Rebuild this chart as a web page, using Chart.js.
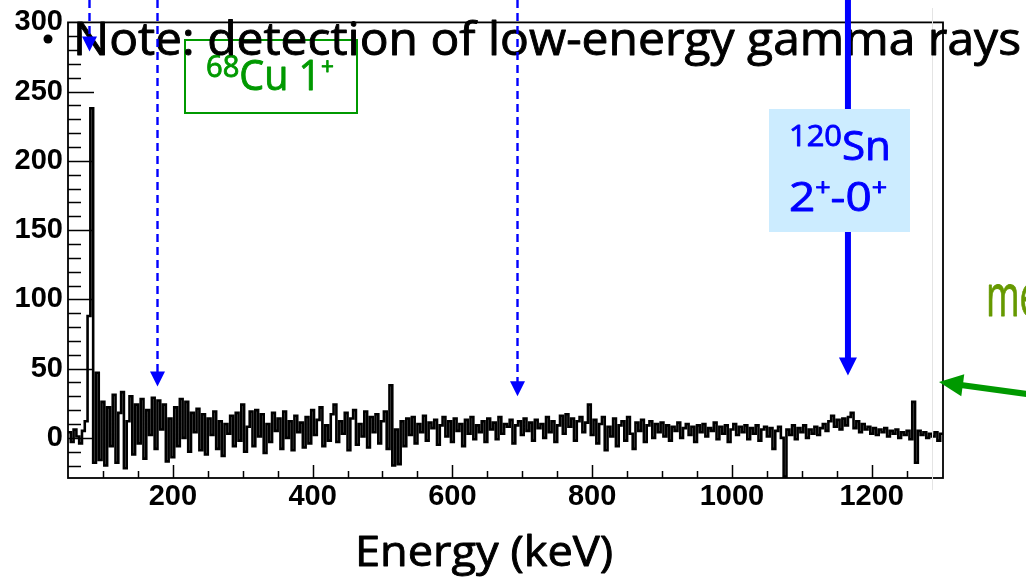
<!DOCTYPE html>
<html>
<head>
<meta charset="utf-8">
<script src="https://cdn.jsdelivr.net/npm/chart.js@4.4.0/dist/chart.umd.min.js"></script>
<style>
  html, body { margin: 0; padding: 0; background: #fff; overflow: hidden; }
  #wrap { width: 1026px; height: 579px; position: relative; }
</style>
</head>
<body>
<div id="wrap"><canvas id="c" width="1026" height="579"></canvas></div>
<script>
// Gamma-ray spectrum: counts per 4 keV bin, first bin starting at 50 keV
const BIN_START = 50;
const BIN_WIDTH = 4;
const counts = [
  4, -3, 6, 1, -4, 5, 12, 88, 238, -18,        // 50-86
  47, -16, 26, -20, 22, -6, 31, -18, 18, 33,   // 90-126
  -22, 12, 30, -12, 24, -4, 28, -15, 20, 2,    // 130-166
  29, -8, 27, 6, 24, -17, 14, -14, 22, -6,     // 170-206
  28, 0, 26, -10, 18, 4, 21, -9, 17, -12,      // 210-246
  14, 2, 19, -8, 12, -13, 10, 3, 16, -6,       // 250-286
  18, -2, 24, -10, 8, 19, -6, 20, 1, 17,       // 290-326
  -11, 10, -3, 18, 5, 14, -8, 19, 0, 12,       // 330-366
  -9, 16, 4, 11, -7, 15, -4, 20, 2, 13,        // 370-406
  22, -6, 9, -2, 17, 24, -3, 12, 3, 18,        // 410-446
  -9, 14, 20, -5, 10, 1, 19, -7, 15, 4,        // 450-486
  17, -4, 12, 19, -8, 38, -20, 6, -19, 12,     // 490-526
  -6, 14, 2, 15, -4, 10, 4, 16, -2, 11,        // 530-566
  7, 13, -5, 9, 15, 1, 12, -3, 14, 5,          // 570-606
  10, -6, 13, 3, 15, -1, 9, 4, 12, -3,         // 610-646
  14, 6, 11, -1, 15, 3, 10, 8, 13, -4,         // 650-686
  9, 12, 2, 14, 5, 11, -2, 13, 7, 10,          // 690-726
  0, 15, 4, 12, -3, 9, 16, 3, 17, 8,           // 730-766
  14, -2, 12, 15, 4, 11, 24, 2, 13, -4,        // 770-806
  10, 15, -9, 8, 1, 14, -6, 9, 12, -2,         // 810-846
  15, 3, -8, 11, 5, 13, -3, 9, 12, 0,          // 850-886
  10, 4, 11, 1, 9, -2, 8, 5, 11, 0,            // 890-926
  7, 10, 2, 8, -3, 9, 4, 10, 1, 7,             // 930-966
  5, 11, -1, 8, 3, 9, -3, 6, 10, 2,            // 970-1006
  8, 4, 9, -1, 7, 3, 9, -2, 6, 8,              // 1010-1046
  1, 7, -8, 5, 8, 0, -28, 6, 2, 9,             // 1050-1086
  -1, 7, 4, 9, 0, 6, 3, 8, 2, 7,               // 1090-1126
  10, 5, 12, 16, 8, 13, 6, 14, 9, 15,          // 1130-1166
  18, 7, 12, 4, 10, 6, 8, 3, 7, 2,             // 1170-1206
  6, 4, 7, 1, 5, 3, 6, 0, 4, 2,                // 1210-1246
  5, -1, 26, -18, 5, 2, 4, 0, 3, 1,            // 1250-1286
  4, -2, 3                                     // 1290-1298
];

const xTickValues = [200, 400, 600, 800, 1000, 1200];
const yTickValues = [0, 50, 100, 150, 200, 250, 300];
const xRange = [50, 1302];
const yRange = [-29, 300];

// transition markers: energy (keV) and arrow-tip height (counts)
const dashedMarkerEnergy = [80, 177, 692];
const dashedMarkerTip = [279, 37, 30];
const snLineEnergy = 1166;
const snLineTip = 45;

const HAND_FONT = 'Open Sans';

// histogram steps: each count holds from its bin's low edge to the next edge
const points = counts.map((c, i) => ({ x: BIN_START + i * BIN_WIDTH, y: c }));
points.push({ x: BIN_START + counts.length * BIN_WIDTH, y: counts[counts.length - 1] });

// draws a run of text pieces (for superscripts) squeezed to a given width
function drawRun(ctx, runs, x, baseline, targetW, color) {
  ctx.save();
  let w = 0;
  runs.forEach(r => {
    ctx.font = `${r.size}px "${HAND_FONT}"`;
    r.w = ctx.measureText(r.t).width;
    w += r.w;
  });
  ctx.translate(x, baseline);
  ctx.scale(targetW / w, 1);
  ctx.fillStyle = color;
  ctx.strokeStyle = color;
  ctx.lineWidth = 0.9;
  ctx.lineJoin = 'round';
  ctx.textAlign = 'left';
  ctx.textBaseline = 'alphabetic';
  let cx = 0;
  runs.forEach(r => {
    ctx.font = `${r.size}px "${HAND_FONT}"`;
    ctx.fillText(r.t, cx, r.dy || 0);
    ctx.strokeText(r.t, cx, r.dy || 0);
    cx += r.w;
  });
  ctx.restore();
}

function arrowDown(ctx, px, tipY, headW, headH) {
  ctx.beginPath();
  ctx.moveTo(px - headW / 2, tipY - headH);
  ctx.lineTo(px + headW / 2, tipY - headH);
  ctx.lineTo(px, tipY);
  ctx.closePath();
  ctx.fill();
}

const framePlugin = {
  id: 'frameTicks',
  afterDatasetsDraw(chart) {
    const { ctx, chartArea: a, scales: { x, y } } = chart;
    ctx.save();
    ctx.strokeStyle = '#000';
    ctx.lineWidth = 1.5;
    ctx.beginPath();
    for (let v = 100; v <= 1250; v += 50) {
      const px = Math.round(x.getPixelForValue(v)) + 0.5;
      const len = v % 200 === 0 ? 13 : 7;
      ctx.moveTo(px, a.bottom);
      ctx.lineTo(px, a.bottom - len);
    }
    for (let v = -20; v < 300; v += 10) {
      const py = Math.round(y.getPixelForValue(v)) + 0.5;
      const len = v % 50 === 0 ? 26 : 13;
      ctx.moveTo(a.left, py);
      ctx.lineTo(a.left + len, py);
    }
    ctx.stroke();
    ctx.lineWidth = 1.8;
    ctx.strokeRect(a.left, a.top, a.right - a.left, a.bottom - a.top);
    // faint inner border line near the right edge
    ctx.strokeStyle = '#e4e4e4';
    ctx.lineWidth = 1;
    ctx.beginPath();
    ctx.moveTo(932.5, 8);
    ctx.lineTo(932.5, 490);
    ctx.stroke();
    ctx.restore();
  }
};

const notesPlugin = {
  id: 'notes',
  afterDraw(chart) {
    const { ctx, scales: { x, y } } = chart;
    ctx.save();

    // 68Cu 1+ label box
    ctx.strokeStyle = '#009900';
    ctx.lineWidth = 2;
    ctx.strokeRect(185, 40, 172, 73);
    drawRun(ctx, [
      { t: '68', size: 31, dy: -13 },
      { t: 'Cu 1', size: 42 },
      { t: '+', size: 24, dy: -15 }
    ], 206, 90, 128, '#009900');

    // headline
    ctx.fillStyle = '#000';
    ctx.beginPath();
    ctx.arc(48, 39, 4.5, 0, Math.PI * 2);
    ctx.fill();
    drawRun(ctx, [{ t: 'Note: detection of low-energy gamma rays', size: 45 }], 73, 55, 948, '#000');

    // axis title
    drawRun(ctx, [{ t: 'Energy (keV)', size: 42 }], 355, 566, 258, '#000');

    // dashed markers
    ctx.strokeStyle = '#0000ff';
    ctx.fillStyle = '#0000ff';
    ctx.lineWidth = 2.4;
    ctx.setLineDash([8, 5]);
    dashedMarkerEnergy.forEach((e, i) => {
      const px = Math.round(x.getPixelForValue(e)) + 0.5;
      const tipY = y.getPixelForValue(dashedMarkerTip[i]);
      ctx.beginPath();
      ctx.moveTo(px, 0);
      ctx.lineTo(px, tipY - 14);
      ctx.stroke();
    });
    ctx.setLineDash([]);
    dashedMarkerEnergy.forEach((e, i) => {
      const px = Math.round(x.getPixelForValue(e)) + 0.5;
      const tipY = y.getPixelForValue(dashedMarkerTip[i]);
      arrowDown(ctx, px, tipY, 15, 15);
    });

    // 120Sn 2+ -> 0+ line
    const sx = x.getPixelForValue(snLineEnergy);
    const sTip = y.getPixelForValue(snLineTip);
    ctx.lineWidth = 6;
    ctx.beginPath();
    ctx.moveTo(sx, 0);
    ctx.lineTo(sx, sTip - 16);
    ctx.stroke();
    arrowDown(ctx, sx, sTip, 18, 18);

    ctx.fillStyle = '#ccecff';
    ctx.fillRect(769, 109, 141, 123);
    drawRun(ctx, [
      { t: '120', size: 30, dy: -14 },
      { t: 'Sn', size: 41 }
    ], 789, 160, 102, '#0000ff');
    drawRun(ctx, [
      { t: '2', size: 41 },
      { t: '+', size: 24, dy: -15 },
      { t: '-0', size: 41 },
      { t: '+', size: 24, dy: -15 }
    ], 789, 211, 98, '#0000ff');

    // side note and pointer
    drawRun(ctx, [{ t: 'me', size: 58 }], 986, 316, 54, '#669900');
    const tip = { x: 939, y: 382 };
    const ux = 0.991, uy = 0.135;
    const hl = 24, hw = 11;
    const bx = tip.x + ux * hl, by = tip.y + uy * hl;
    ctx.strokeStyle = '#009900';
    ctx.fillStyle = '#009900';
    ctx.lineWidth = 6;
    ctx.beginPath();
    ctx.moveTo(bx - ux * 2, by - uy * 2);
    ctx.lineTo(tip.x + ux * 200, tip.y + uy * 200);
    ctx.stroke();
    ctx.beginPath();
    ctx.moveTo(tip.x, tip.y);
    ctx.lineTo(bx - uy * hw, by + ux * hw);
    ctx.lineTo(bx + uy * hw, by - ux * hw);
    ctx.closePath();
    ctx.fill();

    ctx.restore();
  }
};

const tickFont = { family: 'Liberation Sans', size: 29, weight: 'bold' };

new Chart(document.getElementById('c'), {
  type: 'line',
  data: {
    datasets: [{
      data: points,
      stepped: true,
      borderColor: '#000',
      borderWidth: 2.6,
      pointRadius: 0,
      fill: false
    }]
  },
  options: {
    responsive: false,
    devicePixelRatio: 1,
    animation: false,
    layout: { padding: { left: 0, top: 18, right: 83, bottom: 0 } },
    plugins: { legend: { display: false }, tooltip: { enabled: false } },
    scales: {
      x: {
        type: 'linear',
        position: 'bottom',
        min: xRange[0],
        max: xRange[1],
        grid: { display: false, drawTicks: false },
        border: { display: false },
        afterBuildTicks: s => { s.ticks = xTickValues.map(v => ({ value: v })); },
        afterFit: s => { s.height = 101; },
        ticks: {
          font: tickFont,
          color: '#000',
          padding: 2,
          maxRotation: 0,
          autoSkip: false,
          callback: v => String(v)
        }
      },
      y: {
        type: 'linear',
        min: yRange[0],
        max: yRange[1],
        grid: { display: false, drawTicks: false },
        border: { display: false },
        afterBuildTicks: s => { s.ticks = yTickValues.map(v => ({ value: v })); },
        afterFit: s => { s.width = 68; },
        ticks: {
          font: tickFont,
          color: '#000',
          padding: 5,
          autoSkip: false,
          callback: v => String(v)
        }
      }
    }
  },
  plugins: [framePlugin, notesPlugin]
});
</script>
</body>
</html>
